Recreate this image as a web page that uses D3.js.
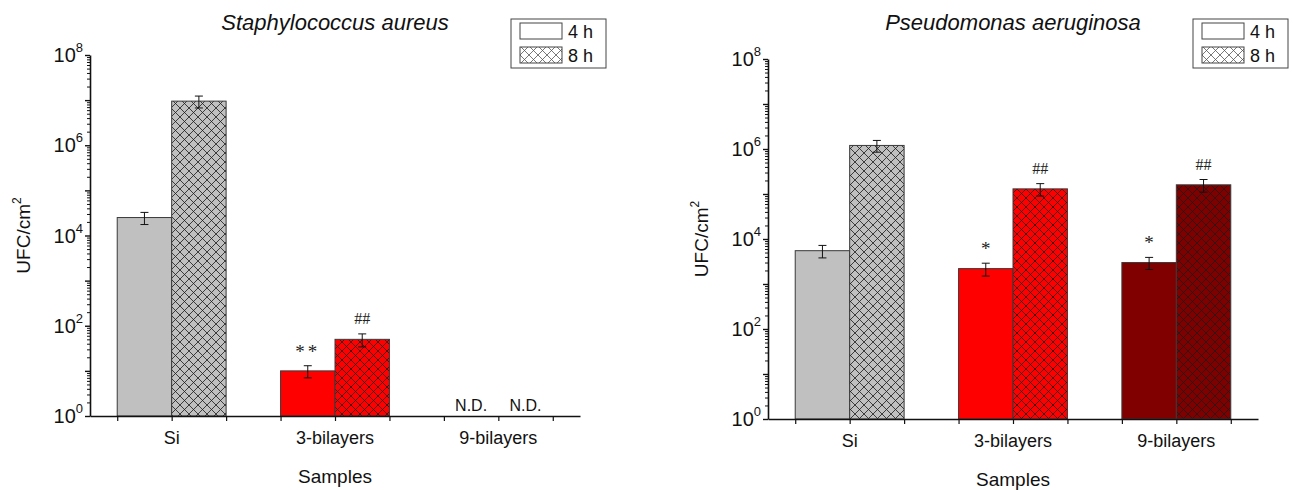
<!DOCTYPE html>
<html>
<head>
<meta charset="utf-8">
<script src="https://cdn.jsdelivr.net/npm/d3@7"></script>
<style>
  html, body { margin: 0; padding: 0; background: #fff; }
  svg { display: block; font-family: "Liberation Sans", Arial, sans-serif; }
</style>
</head>
<body>
<svg id="chart" width="1293" height="490"></svg>
<script>
// ---------- DATA ----------
const categories = ["Si", "3-bilayers", "9-bilayers"];
const seriesNames = ["4 h", "8 h"];
const barColors = ["#c0c0c0", "#ff0000", "#800000"];

// Staphylococcus aureus (UFC/cm2)
const saValues4h = [2.5e4, 10, null];
const saErrors4h = [0.75e4, 3, null];
const saValues8h = [9.5e6, 50, null];
const saErrors8h = [2.8e6, 16, null];
const saMarks4h = ["", "**", "N.D."];
const saMarks8h = ["", "##", "N.D."];

// Pseudomonas aeruginosa (UFC/cm2)
const paValues4h = [5.5e3, 2.2e3, 3.0e3];
const paErrors4h = [1.7e3, 0.7e3, 0.9e3];
const paValues8h = [1.2e6, 1.3e5, 1.6e5];
const paErrors8h = [3.5e5, 4e4, 5e4];
const paMarks4h = ["", "*", "*"];
const paMarks8h = ["", "##", "##"];

const yMajorExponents = [0, 1, 2, 3, 4, 5, 6, 7, 8];
const yLabelExponents = [0, 2, 4, 6, 8];
const xAxisTitle = "Samples";
const yAxisTitle = "UFC/cm";
const yAxisTitleSup = "2";

// ---------- LAYOUT ----------
const svg = d3.select("#chart");
const defs = svg.append("defs");
const hatch = 9;

function makePattern(id, fill, stroke) {
  const p = defs.append("pattern").attr("id", id)
    .attr("patternUnits", "userSpaceOnUse").attr("width", hatch).attr("height", hatch);
  p.append("rect").attr("width", hatch).attr("height", hatch).attr("fill", fill);
  p.append("path").attr("d", `M-1,-1L${hatch+1},${hatch+1}M${hatch+1},-1L-1,${hatch+1}`)
    .attr("stroke", stroke).attr("stroke-width", 0.8).attr("fill", "none");
}
barColors.forEach((c, i) => makePattern("hatch" + i, c, "#1a1a1a"));
makePattern("hatchLegend", "#ffffff", "#555");

const panels = [
  { title: "Staphylococcus aureus", v4: saValues4h, e4: saErrors4h, v8: saValues8h, e8: saErrors8h,
    m4: saMarks4h, m8: saMarks8h, x0: 90, x1: 580, yb: 416, yt: 55, legendX: 511 },
  { title: "Pseudomonas aeruginosa", v4: paValues4h, e4: paErrors4h, v8: paValues8h, e8: paErrors8h,
    m4: paMarks4h, m8: paMarks8h, x0: 768, x1: 1258, yb: 419, yt: 59, legendX: 1193 }
];

panels.forEach(P => {
  const g = svg.append("g");
  const x = d3.scaleLinear().domain([0.5, categories.length + 0.5]).range([P.x0, P.x1]);
  const y = d3.scaleLog().domain([1, 1e8]).range([P.yb, P.yt]);
  const bw = 1 / 3;

  // bars
  const series = [
    { vals: P.v4, errs: P.e4, marks: P.m4, off: -bw, hatch: false },
    { vals: P.v8, errs: P.e8, marks: P.m8, off: 0, hatch: true }
  ];
  series.forEach(S => {
    categories.forEach((c, i) => {
      const xl = x(i + 1 + S.off), xr = x(i + 1 + S.off + bw), xc = (xl + xr) / 2;
      const v = S.vals[i];
      if (v != null) {
        g.append("rect")
          .attr("x", xl).attr("width", xr - xl)
          .attr("y", y(v)).attr("height", y(1) - y(v))
          .attr("fill", S.hatch ? `url(#hatch${i})` : barColors[i])
          .attr("stroke", "#3a3a3a").attr("stroke-width", 1);
        const e = S.errs[i];
        const yt = y(v + e), ybm = y(v - e);
        g.append("line").attr("x1", xc).attr("x2", xc).attr("y1", yt).attr("y2", ybm)
          .attr("stroke", "#111").attr("stroke-width", 1);
        [yt, ybm].forEach(yy => g.append("line").attr("x1", xc - 4).attr("x2", xc + 4)
          .attr("y1", yy).attr("y2", yy).attr("stroke", "#111").attr("stroke-width", 1));
        if (S.marks[i]) {
          const isStar = S.marks[i].indexOf("*") >= 0;
          g.append("text").attr("x", xc).attr("y", yt - (isStar ? 8 : 10))
            .attr("text-anchor", "middle")
            .style("font-family", "'Liberation Serif', 'Times New Roman', serif")
            .style("font-size", isStar ? "19px" : "16px")
            .style("letter-spacing", S.marks[i] === "**" ? "3px" : "0px")
            .attr("fill", "#222").text(S.marks[i]);
        }
      } else if (S.marks[i]) {
        g.append("text").attr("x", xc).attr("y", y(1) - 5)
          .attr("text-anchor", "middle").style("font-size", "16px").attr("fill", "#111")
          .text(S.marks[i]);
      }
    });
  });

  // x axis
  const xTicks = [];
  categories.forEach((c, i) => { xTicks.push(i + 1 - bw, i + 1, i + 1 + bw); });
  const xAxis = g.append("g").attr("transform", `translate(0,${P.yb})`)
    .call(d3.axisBottom(x).tickValues(xTicks).tickSize(5).tickSizeOuter(0).tickFormat(""));
  xAxis.select(".domain").attr("stroke", "#111").attr("stroke-width", 1.6);
  xAxis.selectAll(".tick line").attr("stroke", "#111").attr("stroke-width", 1.2);

  g.selectAll(".catlabel").data(categories).enter().append("text")
    .attr("x", (d, i) => x(i + 1)).attr("y", P.yb + 28)
    .attr("text-anchor", "middle").style("font-size", "18px").attr("fill", "#111").text(d => d);

  g.append("text").attr("x", (P.x0 + P.x1) / 2).attr("y", P.yb + 67)
    .attr("text-anchor", "middle").style("font-size", "19px").attr("fill", "#111").text(xAxisTitle);

  // y axis: minor ticks
  const minor = [];
  yMajorExponents.slice(0, -1).forEach(k => { for (let m = 2; m <= 9; m++) minor.push(m * Math.pow(10, k)); });
  const yMinorAxis = g.append("g").attr("transform", `translate(${P.x0},0)`)
    .call(d3.axisLeft(y).tickValues(minor).tickSize(3).tickSizeOuter(0).tickFormat(""));
  yMinorAxis.select(".domain").remove();
  yMinorAxis.selectAll(".tick line").attr("stroke", "#111").attr("stroke-width", 1);

  const yMajor = yMajorExponents.map(k => Math.pow(10, k));
  const yAxis = g.append("g").attr("transform", `translate(${P.x0},0)`)
    .call(d3.axisLeft(y).tickValues(yMajor).tickSize(5).tickSizeOuter(0).tickFormat(""));
  yAxis.select(".domain").attr("stroke", "#111").attr("stroke-width", 1.6);
  yAxis.selectAll(".tick line").attr("stroke", "#111").attr("stroke-width", 1.4);

  yLabelExponents.forEach(k => {
    const t = g.append("text").attr("x", P.x0 - 7).attr("y", y(Math.pow(10, k)) + 7)
      .attr("text-anchor", "end").style("font-size", "20px").attr("fill", "#111");
    t.append("tspan").text("10");
    t.append("tspan").attr("dy", -10).style("font-size", "13px").text(String(k));
  });

  // y axis title
  const yt = g.append("text")
    .attr("transform", `translate(${P.x0 - 60},${(P.yb + P.yt) / 2}) rotate(-90)`)
    .attr("text-anchor", "middle").style("font-size", "19px").attr("fill", "#111");
  yt.append("tspan").text(yAxisTitle);
  yt.append("tspan").attr("dy", -9).style("font-size", "12px").text(yAxisTitleSup);

  // title
  g.append("text").attr("x", (P.x0 + P.x1) / 2).attr("y", 30)
    .attr("text-anchor", "middle").style("font-size", "22px").style("font-style", "italic")
    .attr("fill", "#111").text(P.title);

  // legend
  const L = g.append("g").attr("transform", `translate(${P.legendX},19)`);
  L.append("rect").attr("width", 95).attr("height", 49).attr("fill", "#fff")
    .attr("stroke", "#444").attr("stroke-width", 1);
  seriesNames.forEach((s, j) => {
    L.append("rect").attr("x", 9).attr("y", 4 + j * 24).attr("width", 42).attr("height", 16)
      .attr("fill", j === 0 ? "#fff" : "url(#hatchLegend)")
      .attr("stroke", "#444").attr("stroke-width", 1);
    L.append("text").attr("x", 57).attr("y", 19 + j * 24).style("font-size", "18px")
      .attr("fill", "#111").text(s);
  });
});
</script>
</body>
</html>
